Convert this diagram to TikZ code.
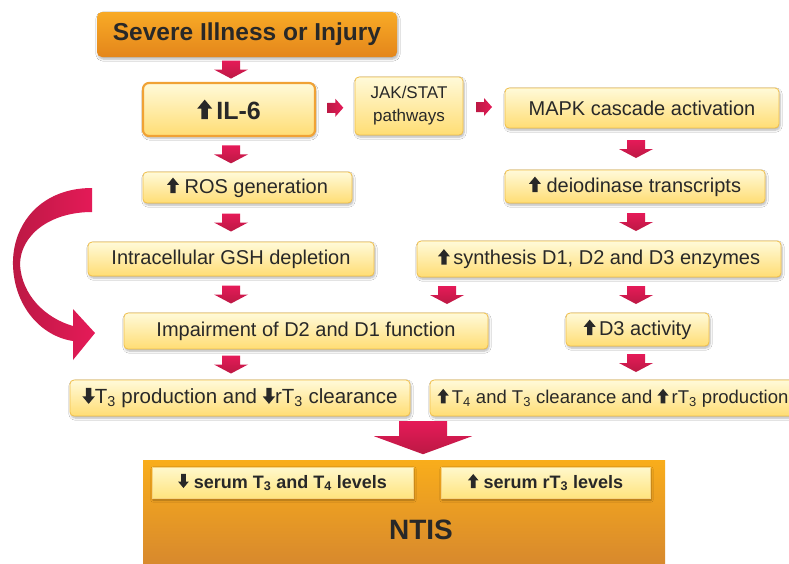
\documentclass[tikz,border=0pt]{standalone}
\usepackage{fontspec}
\setmainfont{Liberation Sans}
\usetikzlibrary{calc, positioning, shadows.blur}
\definecolor{boxtop}{HTML}{FFFAD9}
\definecolor{boxbot}{HTML}{FFDD74}
\definecolor{boxline}{HTML}{F2C04A}
\definecolor{illine}{HTML}{F0A235}
\definecolor{orangetop}{HTML}{F8AA26}
\definecolor{orangebot}{HTML}{E4861B}
\definecolor{ntistop}{HTML}{F9AD1B}
\definecolor{ntisbot}{HTML}{D4852F}
\definecolor{serumtop}{HTML}{FFF8CC}
\definecolor{serumbot}{HTML}{FFE47E}
\definecolor{arrowred}{HTML}{E51A58}
\definecolor{arrowdark}{HTML}{BC1944}
\definecolor{txtgray}{HTML}{282828}

\newcommand{\upar}{\tikz[baseline=0pt,x=1em,y=1em,sharp corners]\fill[txtgray] (-0.13,0) -- (0.13,0) -- (0.13,0.42) -- (0.3,0.42) -- (0,0.78) -- (-0.3,0.42) -- (-0.13,0.42) -- cycle;}
\newcommand{\dnar}{\tikz[baseline=0pt,x=1em,y=1em,sharp corners]\fill[txtgray] (-0.13,0.78) -- (0.13,0.78) -- (0.13,0.36) -- (0.3,0.36) -- (0,0) -- (-0.3,0.36) -- (-0.13,0.36) -- cycle;}
\newcommand{\redstep}[3]{\path ($(#1.south)!0.5!(#2.north)$) coordinate (mid); \pic at (#3,0 |- mid) {dnarr};}

\tikzset{
  softshadow/.style={blur shadow={shadow xshift=1pt, shadow yshift=-2pt, shadow blur steps=6, shadow opacity=30}},
  stepbox/.style={draw=boxline, line width=0.8pt, rounded corners=4pt, top color=boxtop, bottom color=boxbot,
    text=txtgray, inner sep=0pt, font=\fontsize{20}{23}\selectfont, softshadow},
  topbox/.style={rounded corners=5pt, top color=orangetop, bottom color=orangebot, text=txtgray, inner sep=0pt,
    font=\fontsize{24.5}{28}\selectfont\bfseries, softshadow},
  ntisbox/.style={top color=ntistop, bottom color=ntisbot, inner sep=0pt},
  serumbox/.style={draw=boxline!70, line width=0.5pt, top color=serumtop, bottom color=serumbot, text=txtgray,
    inner sep=0pt, font=\fontsize{18}{21}\selectfont\bfseries, softshadow},
  pics/dnarr/.style={code={\shade[top color=arrowred, bottom color=arrowdark]
    (-9,-9) -- (9,-9) -- (9,0) -- (17,0) -- (0,9) -- (-17,0) -- (-9,0) -- cycle;}},
  pics/bigarr/.style={code={\shade[top color=arrowred, bottom color=arrowdark]
    (-24,-17) -- (24,-17) -- (24,-2) -- (49,-2) -- (0,16) -- (-49,-2) -- (-24,-2) -- cycle;}},
  pics/rtarr/.style={code={\shade[left color=arrowdark, right color=arrowred]
    (-8,-5) -- (0,-5) -- (0,-9) -- (8,0) -- (0,9) -- (0,5) -- (-8,5) -- cycle;}}
}

\begin{document}
\begin{tikzpicture}[x=1pt, y=-1pt]
  \useasboundingbox (0,0) rectangle (789,563);
  \fill[white] (0,0) rectangle (789,563);

  % left column
  \node[topbox, minimum width=300pt, minimum height=45pt] (illness) at (247,34.5) {Severe Illness or Injury};
  \node[stepbox, draw=illine, line width=2.2pt, rounded corners=6pt, minimum width=172pt, minimum height=53pt,
    font=\fontsize{25}{30}\selectfont\bfseries] (il6) at (229,109.5) {\upar\,IL-6};
  \node[stepbox, minimum width=209pt, minimum height=31pt] (ros) at (247.5,187.5) {\upar\ ROS generation};
  \node[stepbox, minimum width=286pt, minimum height=34pt] (gsh) at (231,259) {Intracellular GSH depletion};
  \node[stepbox, minimum width=364pt, minimum height=36pt] (impair) at (306,331) {Impairment of D2 and D1 function};
  \node[stepbox, minimum width=340pt, minimum height=36pt, font=\fontsize{20.5}{23}\selectfont] (t3prod) at (240,398)
    {\dnar T\textsubscript{3} production and \dnar rT\textsubscript{3} clearance};

  % right column
  \node[stepbox, minimum width=108pt, minimum height=58pt, align=center, font=\fontsize{17}{23}\selectfont] (jak) at (409,106) {JAK/STAT\\pathways};
  \node[stepbox, minimum width=274pt, minimum height=40pt] (mapk) at (642,108) {MAPK cascade activation};
  \node[stepbox, minimum width=260pt, minimum height=33pt] (deio) at (635,186.5) {\upar\ deiodinase transcripts};
  \node[stepbox, minimum width=364pt, minimum height=36pt] (synth) at (599,259) {\upar\,synthesis D1, D2 and D3 enzymes};
  \node[stepbox, minimum width=143pt, minimum height=33pt] (d3) at (637.5,329.5) {\upar\,D3 activity};
  \node[stepbox, minimum width=366pt, minimum height=36pt, font=\fontsize{18.5}{22}\selectfont] (t4clear) at (613,398)
    {\upar\,T\textsubscript{4} and T\textsubscript{3} clearance and \upar\,rT\textsubscript{3} production};

  % outcome
  \node[ntisbox, minimum width=522pt, minimum height=115pt, anchor=north] (ntis) at (404,460) {};
  \node[font=\fontsize{28}{32}\selectfont\bfseries, text=txtgray] (ntislabel) at (421,530) {NTIS};
  \node[serumbox, minimum width=261pt, minimum height=31pt] (lowT) at (282.5,482.5)
    {\dnar\ serum T\textsubscript{3} and T\textsubscript{4} levels};
  \node[serumbox, minimum width=209pt, minimum height=31pt] (highrT) at (545.5,482.5)
    {\upar\ serum rT\textsubscript{3} levels};

  % block arrows
  \redstep{illness}{il6}{231}
  \redstep{il6}{ros}{231}
  \redstep{ros}{gsh}{231}
  \redstep{gsh}{impair}{231}
  \redstep{impair}{t3prod}{231}
  \redstep{mapk}{deio}{636}
  \redstep{deio}{synth}{636}
  \redstep{synth}{impair}{447}
  \redstep{synth}{d3}{636}
  \redstep{d3}{t4clear}{636}
  \pic at ($(il6.east)!0.5!(jak.west)$) {rtarr};
  \pic at ($(jak.east)!0.5!(mapk.west)$) {rtarr};
  \path ($(t3prod.south)!0.5!(ntis.north)$) coordinate (bigmid);
  \pic at (423,0 |- bigmid) {bigarr};

  % curved arrow ROS -> impairment
  \shade[left color=arrowdark, right color=arrowred]
    (92,188) .. controls (40,188) and (12,225) .. (13,265)
    .. controls (14,305) and (40,336) .. (73,341) -- (73,360) -- (95,333) -- (73,309) -- (73,326)
    .. controls (45,318) and (22,295) .. (20,265)
    .. controls (20,235) and (50,212) .. (92,212) -- cycle;
\end{tikzpicture}
\end{document}
